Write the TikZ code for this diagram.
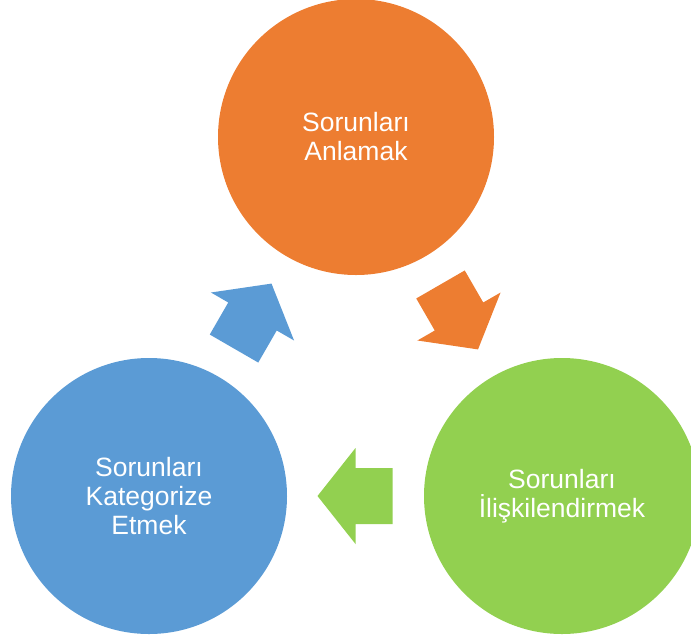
\documentclass[tikz,border=0pt]{standalone}
\usepackage{fontspec}
\setmainfont{Liberation Sans}
\usepackage{tikz}
\usetikzlibrary{positioning, calc}
\definecolor{understand}{RGB}{237, 125, 49}
\definecolor{relate}{RGB}{146, 208, 80}
\definecolor{categorize}{RGB}{91, 155, 213}

\begin{document}
\begin{tikzpicture}[
  x = 1pt, y = 1pt,
  phase/.style  = {circle, minimum size=276pt, inner sep=0pt,
                   fill=#1, text=white, align=center,
                   font=\fontsize{26.5}{29}\selectfont},
  blk/.style    = {fill=#1},
]
\useasboundingbox (0,0) rectangle (691,-638);

\node[phase=understand] (c1) at (356,-137) {Sorunları\\Anlamak};
\node[phase=relate]     (c2) at (562,-496) {Sorunları\\İlişkilendirmek};
\node[phase=categorize] (c3) at (149,-496) {Sorunları\\Kategorize\\Etmek};

%% Block arrows between the circles
\foreach \a/\b/\ang/\col in {c1/c2/-60/understand, c2/c3/180/relate, c3/c1/60/categorize}
  \fill[blk=\col, shift={($(\a)!0.5!(\b)$)}, rotate=\ang]
    (-37,-28) -- (0,-28) -- (0,-48) -- (38,0) -- (0,48) -- (0,28) -- (-37,28) -- cycle;

\end{tikzpicture}
\end{document}
